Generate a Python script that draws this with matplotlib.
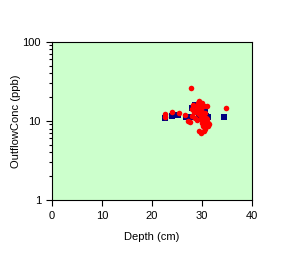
import matplotlib
matplotlib.use("Agg")
import matplotlib.pyplot as plt
from matplotlib.ticker import FixedLocator, FixedFormatter, LogLocator, NullFormatter

# Navy squares series
sq_depth = [22.6, 24.0, 25.3, 26.8, 27.8, 28.0, 28.6, 29.2, 29.8, 30.6, 30.8, 31.2, 30.2, 34.4, 29.4]
sq_conc = [10.9, 11.5, 11.9, 11.2, 11.2, 14.6, 15.9, 13.0, 11.6, 14.2, 11.6, 11.2, 15.0, 11.2, 12.0]

# Red circles series
red_depth = [27.8, 34.8, 22.6, 22.6, 24.0, 25.4, 26.6, 27.2, 27.6, 28.0, 28.2, 28.4, 28.6, 28.8,
             29.0, 29.2, 29.4, 29.6, 29.6, 29.8, 29.8, 30.0, 30.0, 30.2, 30.2, 30.4, 30.4, 30.6,
             30.6, 30.8, 30.8, 31.0, 31.0, 31.2, 31.2, 29.4, 29.8, 30.4, 29.0, 29.2, 28.0, 31.4,
             30.0, 29.6]
red_conc = [26.0, 14.6, 12.3, 11.1, 13.0, 12.6, 11.9, 10.0, 9.6, 14.0, 16.0, 12.8, 11.0, 13.5,
            15.0, 17.0, 18.0, 16.5, 12.0, 14.5, 10.5, 13.0, 9.5, 11.5, 8.5, 15.5, 10.0, 12.5,
            8.0, 9.0, 11.0, 15.5, 10.5, 8.6, 9.5, 7.5, 7.0, 7.4, 10.2, 12.5, 11.5, 9.0,
            17.0, 14.0]

x_ticks = [0, 10, 20, 30, 40]
y_ticks = [1, 10, 100]

fig = plt.figure(figsize=(2.85, 2.71), dpi=100)
ax = fig.add_axes([0.1825, 0.262, 0.7015, 0.584])
ax.set_facecolor("#ccffcc")

ax.scatter(sq_depth, sq_conc, marker="s", s=14, color="#000080", linewidths=0, zorder=3)
ax.scatter(red_depth, red_conc, marker="o", s=16, color="#ff0000", linewidths=0, zorder=4)

ax.set_xlim(0, 40)
ax.set_yscale("log")
ax.set_ylim(1, 100)

ax.xaxis.set_major_locator(FixedLocator(x_ticks))
ax.xaxis.set_major_formatter(FixedFormatter([str(t) for t in x_ticks]))
ax.yaxis.set_major_locator(FixedLocator(y_ticks))
ax.yaxis.set_major_formatter(FixedFormatter([str(t) for t in y_ticks]))
ax.yaxis.set_minor_locator(LogLocator(base=10, subs=range(2, 10)))
ax.yaxis.set_minor_formatter(NullFormatter())

font = "Liberation Sans"
for lab in ax.get_xticklabels() + ax.get_yticklabels():
    lab.set_fontfamily(font)
    lab.set_fontsize(8)

ax.tick_params(which="major", direction="out", length=4, width=0.8, pad=4)
ax.tick_params(which="minor", direction="out", length=2.5, width=0.8)

for sp in ax.spines.values():
    sp.set_color("black")
    sp.set_linewidth(0.8)

ax.set_xlabel("Depth (cm)", fontfamily=font, fontsize=8, labelpad=8)
ax.set_ylabel("OutflowConc (ppb)", fontfamily=font, fontsize=8, labelpad=1)

fig.savefig("out.png", dpi=100)
